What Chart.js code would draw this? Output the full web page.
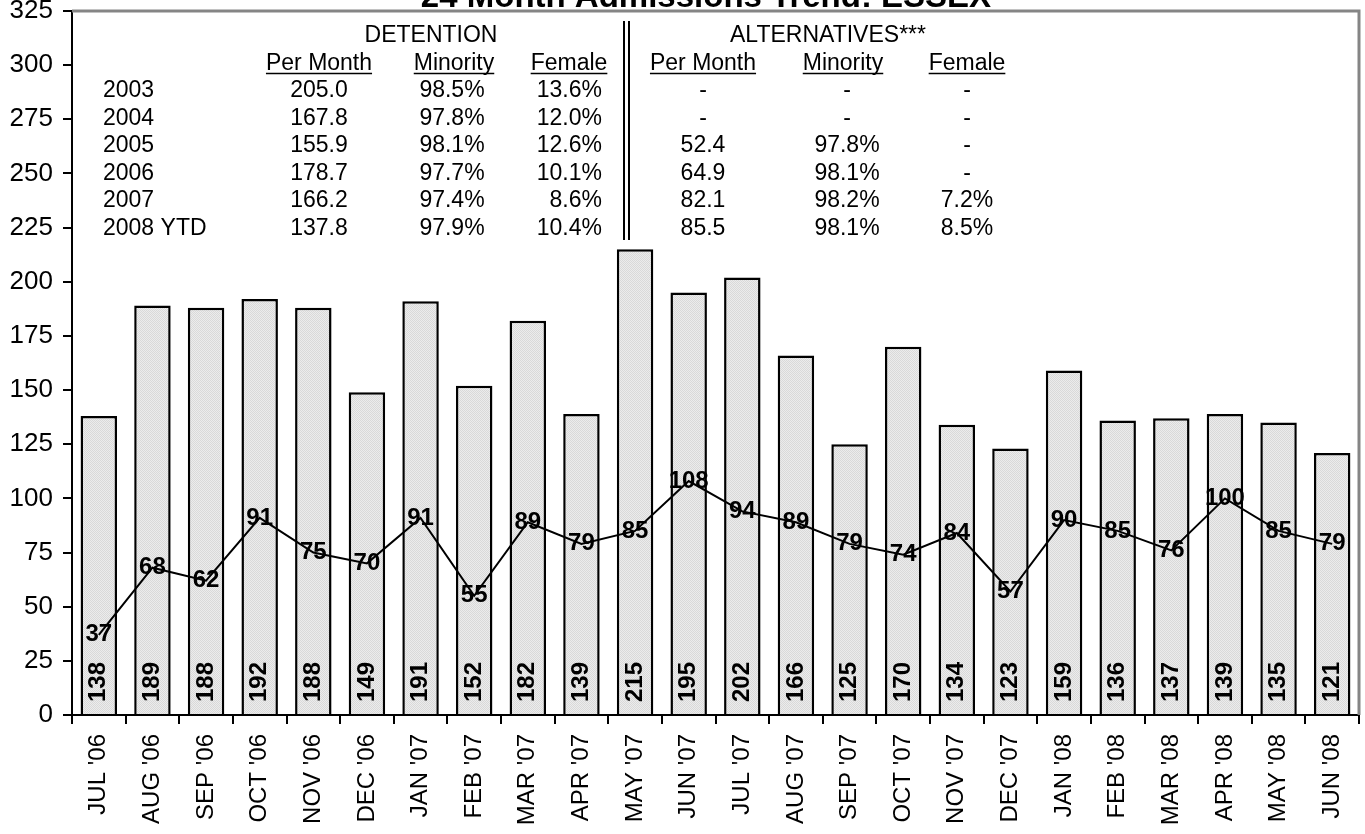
<!DOCTYPE html>
<html>
<head>
<meta charset="utf-8">
<script src="https://cdn.jsdelivr.net/npm/chart.js@4/dist/chart.umd.min.js"></script>
<style>
  html, body { margin: 0; padding: 0; background: #fff; }
  #wrap { width: 1365px; height: 834px; }
</style>
</head>
<body>
<div id="wrap"><canvas id="chart" width="1365" height="834"></canvas></div>
<script>
// Monthly admissions, Jul 2006 - Jun 2008
const months = ["JUL '06", "AUG '06", "SEP '06", "OCT '06", "NOV '06", "DEC '06",
  "JAN '07", "FEB '07", "MAR '07", "APR '07", "MAY '07", "JUN '07",
  "JUL '07", "AUG '07", "SEP '07", "OCT '07", "NOV '07", "DEC '07",
  "JAN '08", "FEB '08", "MAR '08", "APR '08", "MAY '08", "JUN '08"];
const detention = [138, 189, 188, 192, 188, 149, 191, 152, 182, 139, 215, 195,
  202, 166, 125, 170, 134, 123, 159, 136, 137, 139, 135, 121];
const alternatives = [37, 68, 62, 91, 75, 70, 91, 55, 89, 79, 85, 108,
  94, 89, 79, 74, 84, 57, 90, 85, 76, 100, 85, 79];

// Summary table
const tableYears = ['2003', '2004', '2005', '2006', '2007', '2008 YTD'];
const detPerMonth = ['205.0', '167.8', '155.9', '178.7', '166.2', '137.8'];
const detMinority = ['98.5%', '97.8%', '98.1%', '97.7%', '97.4%', '97.9%'];
const detFemale = ['13.6%', '12.0%', '12.6%', '10.1%', '8.6%', '10.4%'];
const altPerMonth = ['-', '-', '52.4', '64.9', '82.1', '85.5'];
const altMinority = ['-', '-', '97.8%', '98.1%', '98.2%', '98.1%'];
const altFemale = ['-', '-', '-', '-', '7.2%', '8.5%'];

const chartTitle = '24 Month Admissions Trend: ESSEX';
const FONT = '"Liberation Sans", Arial, sans-serif';

// dotted light gray fill like the original bars
function makePattern() {
  const c = document.createElement('canvas');
  c.width = 2; c.height = 2;
  const g = c.getContext('2d');
  g.fillStyle = '#ececec'; g.fillRect(0, 0, 2, 2);
  g.fillStyle = '#d9d9d9'; g.fillRect(0, 0, 1, 1); g.fillRect(1, 1, 1, 1);
  return g.createPattern(c, 'repeat');
}

const overlayPlugin = {
  id: 'overlay',
  afterDatasetsDraw(chart) {
    const ctx = chart.ctx;
    const area = chart.chartArea;
    ctx.save();

    // gray frame on top and right
    ctx.strokeStyle = '#858585';
    ctx.lineWidth = 3;
    ctx.beginPath();
    ctx.moveTo(area.left, area.top);
    ctx.lineTo(area.right, area.top);
    ctx.lineTo(area.right, area.bottom);
    ctx.stroke();

    // bar values, vertical at the bottom of each bar
    const barMeta = chart.getDatasetMeta(0);
    ctx.fillStyle = '#000';
    ctx.font = 'bold 24px ' + FONT;
    ctx.textAlign = 'left';
    ctx.textBaseline = 'middle';
    barMeta.data.forEach((bar, i) => {
      ctx.save();
      ctx.translate(bar.x, area.bottom - 13);
      ctx.rotate(-Math.PI / 2);
      ctx.fillText(String(detention[i]), 0, 0);
      ctx.restore();
    });

    // line values centred on the points
    const lineMeta = chart.getDatasetMeta(1);
    ctx.textAlign = 'center';
    lineMeta.data.forEach((pt, i) => {
      ctx.fillText(String(alternatives[i]), pt.x, pt.y);
    });

    // title (mostly cut off at top)
    ctx.font = 'bold 33px ' + FONT;
    ctx.textBaseline = 'alphabetic';
    ctx.fillText(chartTitle, 706, 7);

    // summary table
    ctx.font = '23px ' + FONT;
    const rowY = [97, 124.6, 152.2, 179.8, 207.4, 235];
    const headY = 70;
    const groupY = 42;

    const text = (s, x, y, align) => {
      ctx.textAlign = align;
      ctx.fillText(s, x, y);
    };
    const header = (s, cx, y) => {
      const w = ctx.measureText(s).width;
      text(s, cx, y, 'center');
      ctx.lineWidth = 1.5;
      ctx.strokeStyle = '#000';
      ctx.beginPath();
      ctx.moveTo(cx - w / 2, y + 3.5);
      ctx.lineTo(cx + w / 2, y + 3.5);
      ctx.stroke();
    };

    text('DETENTION', 431, groupY, 'center');
    text('ALTERNATIVES***', 828, groupY, 'center');
    header('Per Month', 319, headY);
    header('Minority', 454, headY);
    header('Female', 569, headY);
    header('Per Month', 703, headY);
    header('Minority', 843, headY);
    header('Female', 967, headY);

    tableYears.forEach((yr, i) => {
      const y = rowY[i];
      text(yr, 103, y, 'left');
      text(detPerMonth[i], 319, y, 'center');
      text(detMinority[i], 452, y, 'center');
      text(detFemale[i], 602, y, 'right');
      text(altPerMonth[i], 703, y, 'center');
      text(altMinority[i], 847, y, 'center');
      text(altFemale[i], 967, y, 'center');
    });

    // double divider between the two groups
    ctx.strokeStyle = '#000';
    ctx.lineWidth = 2;
    [624, 629].forEach((x) => {
      ctx.beginPath();
      ctx.moveTo(x, 21);
      ctx.lineTo(x, 240);
      ctx.stroke();
    });

    ctx.restore();
  },
};

const ctx = document.getElementById('chart').getContext('2d');
new Chart(ctx, {
  data: {
    labels: months,
    datasets: [
      {
        type: 'bar',
        label: 'Detention',
        data: detention,
        backgroundColor: makePattern(),
        borderColor: '#000',
        borderWidth: 2.5,
        barPercentage: 0.68,
        categoryPercentage: 1,
        order: 2,
      },
      {
        type: 'line',
        label: 'Alternatives',
        data: alternatives,
        borderColor: '#000',
        borderWidth: 2,
        pointRadius: 0,
        tension: 0,
        order: 1,
      },
    ],
  },
  options: {
    responsive: false,
    animation: false,
    layout: { padding: { top: 11, right: 6, left: 0, bottom: 0 } },
    plugins: {
      legend: { display: false },
      tooltip: { enabled: false },
      title: { display: false },
    },
    scales: {
      x: {
        offset: true,
        grid: {
          display: true,
          offset: true,
          drawOnChartArea: false,
          drawTicks: true,
          tickLength: 9,
          color: '#000',
          lineWidth: 2,
        },
        border: { display: true, color: '#000', width: 2 },
        ticks: {
          color: '#000',
          font: { size: 24, family: FONT },
          minRotation: 90,
          maxRotation: 90,
          padding: 10,
          autoSkip: false,
        },
        afterFit(scale) {
          scale.height = 119;
          scale.paddingLeft = 0;
          scale.paddingRight = 0;
        },
      },
      y: {
        min: 0,
        max: 325,
        grid: {
          display: true,
          drawOnChartArea: false,
          drawTicks: true,
          tickLength: 9,
          color: '#000',
          lineWidth: 2,
        },
        border: { display: true, color: '#000', width: 2 },
        ticks: {
          stepSize: 25,
          color: '#000',
          font: { size: 26, family: FONT },
          padding: 10,
        },
        afterFit(scale) {
          scale.width = 72;
          scale.paddingTop = 0;
          scale.paddingBottom = 0;
        },
      },
    },
  },
  plugins: [overlayPlugin],
});
</script>
</body>
</html>
